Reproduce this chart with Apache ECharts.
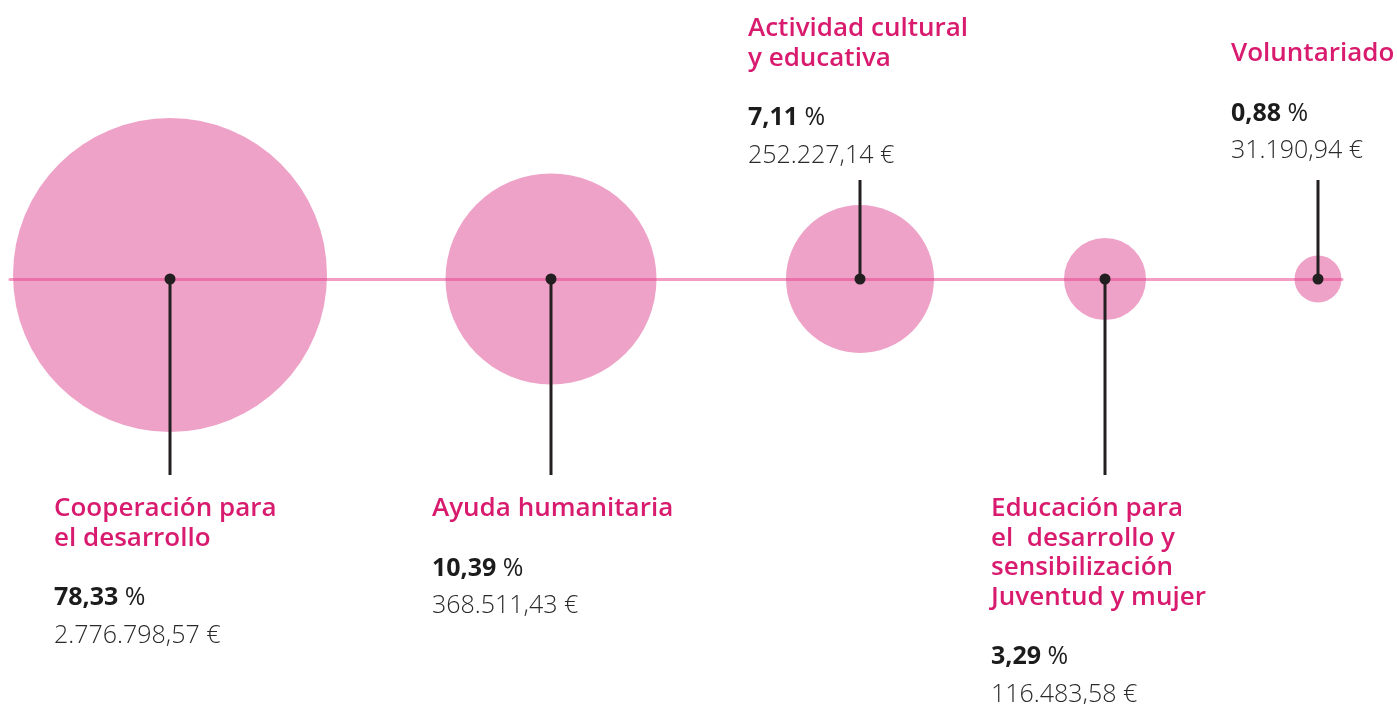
<!doctype html>
<html lang="es">
<head>
<meta charset="UTF-8">
<title>Distribución por áreas</title>
<script src="https://cdn.jsdelivr.net/npm/echarts@6/dist/echarts.min.js"></script>
<style>
    html, body { margin: 0; padding: 0; background: #fff; }
    #main { width: 1397px; height: 704px; }
</style>
</head>
<body>
<div id="main"></div>
<script>
// datos
var categorias = [
    'Cooperación para\nel desarrollo',
    'Ayuda humanitaria',
    'Actividad cultural\ny educativa',
    'Educación para\nel  desarrollo y\nsensibilización\nJuventud y mujer',
    'Voluntariado'
];
var porcentajes = [78.33, 10.39, 7.11, 3.29, 0.88];
var importes = [2776798.57, 368511.43, 252227.14, 116483.58, 31190.94];

// maquetación (posición en el eje, diámetro, lado de la etiqueta)
var posX = [160, 541, 850, 1095, 1308];
var diametros = [314, 211, 148, 82, 47];
var lado = [1, 1, -1, 1, -1];
var offsets = [[-116, 215], [-119, 215], [-112, -265], [-114, 215], [-87, -240]];

var ROSA = '#d81b6e';
var OSCURO = '#231f20';
var FUENTE = '"Open Sans", Lato, sans-serif';

function numES(v, dec) {
    var s = v.toFixed(dec).split('.');
    var ent = s[0].replace(/\B(?=(\d{3})+(?!\d))/g, '.');
    return dec ? ent + ',' + s[1] : ent;
}

function bloque(i) {
    var t = categorias[i].split('\n').map(function (l) { return '{t|' + l + '}'; }).join('\n');
    return t + '\n{s| }\n{p|' + numES(porcentajes[i], 2) + '}{pc| %}\n{v|' + numES(importes[i], 2) + ' €}';
}

var myChart = echarts.init(document.getElementById('main'));

var option = {
    animation: false,
    grid: { left: 10, right: 55, top: 0, height: 558 },
    xAxis: {
        type: 'value', min: 0, max: 1332, z: 3,
        axisLine: { onZero: true, lineStyle: { color: 'rgba(232,60,140,0.5)', width: 3 } },
        axisTick: { show: false }, axisLabel: { show: false }, splitLine: { show: false }
    },
    yAxis: { type: 'value', min: -1, max: 1, show: false },
    series: [
        {
            type: 'scatter', z: 1, silent: true,
            data: posX.map(function (x, i) {
                return { value: [x, 0, porcentajes[i]], symbolOffset: i === 0 ? [0, -4] : [0, 0] };
            }),
            symbolSize: function (v, p) { return diametros[p.dataIndex]; },
            itemStyle: { color: '#eea2c7', opacity: 1 }
        },
        {
            type: 'custom', z: 4, silent: true,
            data: posX.map(function (x, i) { return [x, lado[i]]; }),
            renderItem: function (params, api) {
                var p = api.coord([api.value(0), 0]);
                var len = api.value(1) > 0 ? 196 : -99;
                return {
                    type: 'line',
                    shape: { x1: p[0], y1: p[1], x2: p[0], y2: p[1] + len },
                    style: { stroke: OSCURO, lineWidth: 3 }
                };
            }
        },
        {
            type: 'scatter', z: 5, silent: true,
            data: posX.map(function (x) { return [x, 0]; }),
            symbolSize: 11,
            itemStyle: { color: OSCURO, opacity: 1 }
        },
        {
            type: 'scatter', z: 6, silent: true,
            symbolSize: 0,
            itemStyle: { opacity: 1 },
            data: posX.map(function (x, i) {
                return {
                    value: [x, 0],
                    label: { offset: offsets[i], formatter: bloque(i) }
                };
            }),
            label: {
                show: true,
                position: 'inside',
                align: 'left',
                verticalAlign: 'top',
                fontFamily: FUENTE,
                rich: {
                    t: { fontFamily: FUENTE, fontSize: 26, fontWeight: 600, color: ROSA, lineHeight: 29.5 },
                    s: { fontSize: 10, lineHeight: 26 },
                    p: { fontFamily: FUENTE, fontSize: 25, fontWeight: 'bold', color: '#1c1c1c', lineHeight: 38 },
                    pc: { fontFamily: FUENTE, fontSize: 25, fontWeight: 'normal', color: '#1c1c1c', lineHeight: 38 },
                    v: { fontFamily: FUENTE, fontSize: 25, fontWeight: 300, color: '#2a2a2a', lineHeight: 37 }
                }
            }
        }
    ]
};

myChart.setOption(option);
</script>
</body>
</html>
